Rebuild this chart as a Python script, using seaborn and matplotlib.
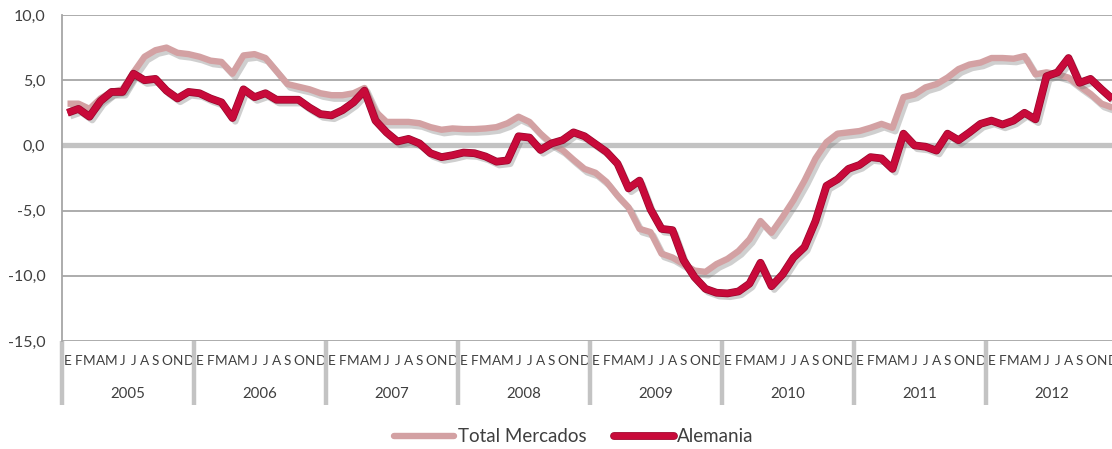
import numpy as np
import pandas as pd
import matplotlib
matplotlib.use("Agg")
import matplotlib.pyplot as plt
import matplotlib.patheffects as pe
import matplotlib.transforms as mtransforms
from matplotlib.lines import Line2D
import seaborn as sns

# ---------------- data ----------------
years = ["2005", "2006", "2007", "2008", "2009", "2010", "2011", "2012"]
month_letters = ["E", "F", "M", "A", "M", "J", "J", "A", "S", "O", "N", "D"]

total_mercados = [
    3.2, 3.2, 2.8, 3.6, 4.1, 4.3, 5.6, 6.8, 7.3, 7.5, 7.1, 7.0,
    6.8, 6.5, 6.4, 5.5, 6.9, 7.0, 6.7, 5.7, 4.7, 4.5, 4.3, 4.0,
    3.85, 3.85, 4.0, 4.4, 2.6, 1.8, 1.8, 1.8, 1.7, 1.4, 1.2, 1.3,
    1.25, 1.25, 1.3, 1.4, 1.7, 2.2, 1.8, 0.9, 0.15, -0.35, -1.1, -1.8,
    -2.1, -2.8, -3.85, -4.75, -6.4, -6.65, -8.3, -8.6, -9.1, -9.6, -9.7, -9.1,
    -8.7, -8.1, -7.2, -5.8, -6.7, -5.5, -4.2, -2.7, -1.0, 0.25, 0.9, 1.0,
    1.1, 1.35, 1.65, 1.35, 3.7, 3.9, 4.45, 4.7, 5.2, 5.85, 6.2, 6.35,
    6.7, 6.7, 6.65, 6.85, 5.45, 5.6, 5.45, 5.2, 4.55, 3.95, 3.2, 2.9,
]
alemania = [
    2.5, 2.8, 2.2, 3.4, 4.1, 4.1, 5.5, 5.0, 5.1, 4.2, 3.6, 4.1,
    4.0, 3.6, 3.3, 2.1, 4.3, 3.7, 4.0, 3.5, 3.5, 3.5, 2.9, 2.4,
    2.3, 2.7, 3.3, 4.2, 1.9, 1.0, 0.3, 0.5, 0.15, -0.6, -0.9, -0.75,
    -0.55, -0.6, -0.85, -1.25, -1.15, 0.7, 0.6, -0.35, 0.15, 0.4, 1.0, 0.7,
    0.1, -0.5, -1.4, -3.3, -2.7, -4.9, -6.4, -6.5, -8.8, -10.1, -11.0, -11.3,
    -11.35, -11.2, -10.6, -9.0, -10.8, -9.9, -8.6, -7.8, -5.8, -3.1, -2.6, -1.8,
    -1.5, -0.9, -1.0, -1.8, 0.9, 0.0, -0.1, -0.4, 0.9, 0.4, 1.0, 1.65,
    1.9, 1.6, 1.9, 2.5, 2.0, 5.3, 5.6, 6.7, 4.8, 5.1, 4.3, 3.55,
]
series_names = ["Total Mercados", "Alemania"]
y_ticks = [-15, -10, -5, 0, 5, 10]
y_tick_labels = ["-15,0", "-10,0", "-5,0", "0,0", "5,0", "10,0"]

# ---------------- style ----------------
sns.set_style("white")
plt.rcParams["font.family"] = ["Lato", "DejaVu Sans"]

n = len(total_mercados)
idx = np.arange(n)
df = pd.DataFrame({
    "mes": np.concatenate([idx, idx]),
    "valor": total_mercados + alemania,
    "serie": [series_names[0]] * n + [series_names[1]] * n,
})

pink = "#d3a1a3"
red = "#c80a3a"
text_col = "#3f3f3f"
grid_col = "#a6a6a6"

fig = plt.figure(figsize=(11.12, 4.49), dpi=100)
ax = fig.add_axes([62 / 1112, 1 - 341 / 449, 1056 / 1112, 326 / 449])

sns.lineplot(data=df, x="mes", y="valor", hue="serie", hue_order=series_names,
             palette=[pink, red], linewidth=4.6, ax=ax, legend=False,
             estimator=None, sort=False)

shadow = pe.SimpleLineShadow(offset=(2, -2.5), shadow_color="#777777", alpha=0.35)
ax.lines[0].set_path_effects([shadow, pe.Normal()])
ax.lines[1].set_path_effects([shadow, pe.Stroke(linewidth=5.6, foreground="#98072d"), pe.Normal()])
for ln in ax.lines:
    ln.set_solid_joinstyle("round")
    ln.set_solid_capstyle("butt")

# axes
ax.set_xlim(-0.5, n - 0.5)
ax.set_ylim(-15, 10)
ax.set_yticks(y_ticks)
ax.set_yticklabels(y_tick_labels)
for y in y_ticks:
    if y != 0:
        ax.axhline(y, color=grid_col, lw=1.3, zorder=0)
ax.axhline(0, color="#c3c3c3", lw=3.8, zorder=0.5)

for s in ["top", "right", "bottom"]:
    ax.spines[s].set_visible(False)
ax.spines["left"].set_color(grid_col)
ax.spines["left"].set_linewidth(1.3)
ax.tick_params(axis="y", length=4, width=1.2, color=grid_col, labelsize=11.5, pad=8)
for lab in ax.get_yticklabels():
    lab.set_color(text_col)

ax.set_xticks(idx)
ax.set_xticklabels(month_letters * len(years), fontsize=9.8, color=text_col)
ax.tick_params(axis="x", length=0, pad=10)
ax.set_xlabel("")
ax.set_ylabel("")

# year labels and separators
trans = mtransforms.blended_transform_factory(ax.transData, ax.transAxes)
for k, yr in enumerate(years):
    ax.text(12 * k + 5.5, -0.163, yr, transform=trans, ha="center", va="center",
            fontsize=10.8, color=text_col, clip_on=False)
for k in range(len(years) + 1):
    ax.plot([12 * k - 0.5, 12 * k - 0.5], [0, -0.196], transform=trans,
            color="#c3c3c3", lw=3.2, clip_on=False, solid_capstyle="butt")

# legend
handles = [Line2D([], [], color=pink, lw=4.6),
           Line2D([], [], color=red, lw=4.6,
                  path_effects=[pe.Stroke(linewidth=5.6, foreground="#98072d"), pe.Normal()])]
leg = fig.legend(handles, series_names, loc="center", bbox_to_anchor=(574 / 1112, 12 / 449),
                 ncol=2, frameon=False, fontsize=13.5, handlelength=3.2,
                 handletextpad=0.2, columnspacing=1.45)
for t in leg.get_texts():
    t.set_color(text_col)

fig.savefig("out.png", dpi=100)
